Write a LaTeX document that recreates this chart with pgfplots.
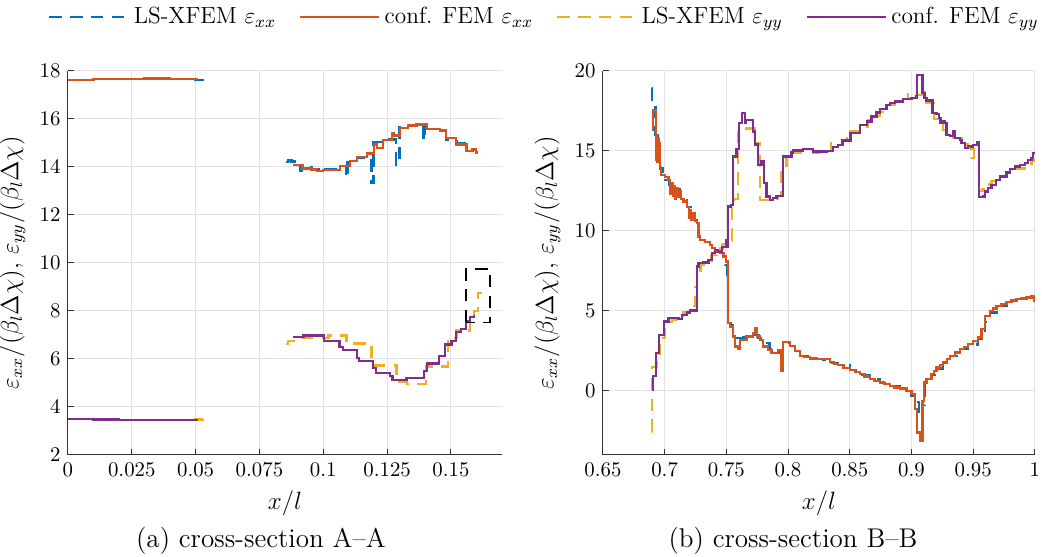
\documentclass[border=0pt]{standalone}
\usepackage{pgfplots}
\pgfplotsset{compat=1.18}
\definecolor{mblue}{rgb}{0,0.447,0.741}
\definecolor{morange}{rgb}{0.85,0.325,0.098}
\definecolor{myellow}{rgb}{0.929,0.694,0.125}
\definecolor{mpurple}{rgb}{0.494,0.184,0.556}
\pgfplotsset{
  mystyle/.style={
    scale only axis, height=184.3pt,
    axis x line*=bottom, axis y line*=left,
    axis line style={-, black!80, line width=0.5pt},
    grid=major, major grid style={gray!22, line width=0.5pt},
    tick align=inside, major tick length=3pt, tick style={black!80, line width=0.5pt},
    ticklabel style={font=\fontsize{10}{12}\selectfont},
    label style={font=\fontsize{12}{14}\selectfont},
    xlabel={$x/l$},
    ylabel={$\varepsilon_{xx}/(\beta_l\Delta\chi)$, $\varepsilon_{yy}/(\beta_l\Delta\chi)$},
  },
  xxls/.style={mblue, line width=1.1pt, dash pattern=on 6pt off 4pt, const plot},
  xxfe/.style={morange, line width=1.1pt, const plot},
  yyls/.style={myellow, line width=1.1pt, dash pattern=on 6pt off 4pt, const plot},
  yyfe/.style={mpurple, line width=1.1pt, const plot},
}
\begin{document}
\begin{tikzpicture}
\useasboundingbox (-32.6pt,-48.5pt) rectangle (467.4pt,218.3pt);
% ---------------- left axis ----------------
\begin{axis}[mystyle, at={(0pt,0pt)}, anchor=south west, width=208.3pt,
  xmin=0, xmax=0.17, ymin=2, ymax=18,
  xtick={0,0.025,0.05,0.075,0.1,0.125,0.15},
  xticklabels={0,0.025,0.05,0.075,0.1,0.125,0.15},
  ytick={2,4,6,8,10,12,14,16,18},
  legend style={at={(1.10,1.14)}, anchor=center, draw=none, fill=none,
    legend columns=4, font=\fontsize{11.2}{13}\selectfont, inner sep=0pt,
    /tikz/every even column/.append style={column sep=9pt}},
  legend cell align=left,
  legend image code/.code={\draw[#1] (0pt,0pt) -- (38pt,0pt);},
]
\addplot[xxls] coordinates {(0,17.62) (0.01,17.65) (0.02,17.67) (0.03,17.68) (0.04,17.66) (0.05,17.63) (0.0528,17.62)};
\addlegendentry{LS-XFEM $\varepsilon_{xx}$}
\addplot[xxfe] coordinates {(0,17.62) (0.01,17.65) (0.02,17.67) (0.03,17.68) (0.04,17.66) (0.0504,17.63)};
\addlegendentry{conf. FEM $\varepsilon_{xx}$}
\addplot[yyls] coordinates {(0,3.5) (0.01,3.48) (0.02,3.46) (0.03,3.45) (0.04,3.46) (0.05,3.48) (0.0528,3.49)};
\addlegendentry{LS-XFEM $\varepsilon_{yy}$}
\addplot[yyfe] coordinates {(0,3.5) (0.01,3.48) (0.02,3.46) (0.03,3.45) (0.04,3.46) (0.0504,3.48)};
\addlegendentry{conf. FEM $\varepsilon_{yy}$}
% second pieces
\addplot[xxls, forget plot] coordinates {
(0.0854,14.19) (0.0863,14.26) (0.0876,14.22) (0.0889,14.10) (0.0909,13.85) (0.0915,14.03)
(0.0954,13.90) (0.0984,13.80) (0.0990,13.92) (0.1065,14.03) (0.1089,13.54) (0.1095,14.24)
(0.1133,14.38) (0.1189,13.33) (0.1197,15.03) (0.1235,15.14) (0.1284,14.10) (0.1298,15.72)
(0.1365,15.80) (0.1392,15.10) (0.1398,15.86) (0.1405,15.58) (0.1480,15.14) (0.1487,15.07)
(0.1522,15.00) (0.1561,14.65) (0.1587,14.72) (0.1598,14.44) (0.1607,14.44)};
\addplot[xxfe, forget plot] coordinates {
(0.0883,14.07) (0.0919,13.93) (0.0954,13.89) (0.0974,13.82) (0.1000,13.86) (0.1065,14.03)
(0.1104,14.24) (0.1133,14.42) (0.1170,14.56) (0.1198,14.93) (0.1210,14.80) (0.1235,15.11)
(0.1268,15.42) (0.1277,15.31) (0.1300,15.63) (0.1333,15.72) (0.1365,15.76) (0.1405,15.58)
(0.1457,15.51) (0.1480,15.21) (0.1519,14.93) (0.1561,14.65) (0.1581,14.72) (0.1598,14.60) (0.1605,14.60)};
\addplot[yyls, forget plot] coordinates {
(0.0854,6.63) (0.0863,6.76) (0.0893,6.88) (0.1020,6.97) (0.1091,6.64) (0.1189,6.08)
(0.1202,5.72) (0.1287,5.03) (0.1329,4.96) (0.1402,5.69) (0.1489,6.88) (0.1522,7.18)
(0.1574,7.60) (0.1590,7.99) (0.1607,8.75) (0.1620,8.75)};
\addplot[yyfe, forget plot] coordinates {
(0.0883,6.92) (0.0922,6.97) (0.1004,6.74) (0.1063,6.49) (0.1076,6.36) (0.1131,6.04)
(0.1141,5.90) (0.1196,5.63) (0.1206,5.42) (0.1261,5.28) (0.1271,5.11) (0.1326,5.21)
(0.1394,5.49) (0.1405,5.81) (0.1454,6.11) (0.1476,6.60) (0.1502,6.74) (0.1519,7.11)
(0.1538,7.25) (0.1559,7.57) (0.1574,7.75) (0.1590,7.78) (0.1594,7.78)};
\addplot[black, line width=0.6pt, dash pattern=on 6pt off 4pt, forget plot] coordinates {
(0.1559,7.53) (0.1559,9.75) (0.1653,9.75) (0.1653,7.53) (0.1559,7.53)};
\end{axis}
% ---------------- right axis ----------------
\begin{axis}[mystyle, at={(256.7pt,0pt)}, anchor=south west, width=207.3pt,
  xmin=0.65, xmax=1, ymin=-4, ymax=20,
  xtick={0.65,0.7,0.75,0.8,0.85,0.9,0.95,1},
  xticklabels={0.65,0.7,0.75,0.8,0.85,0.9,0.95,1},
  ytick={0,5,10,15,20},
]
\addplot[xxls] coordinates {
(0.6898,18.92) (0.6900,18.2) (0.6925,16.0) (0.6945,15.0) (0.6965,13.9) (0.6985,13.5)
(0.7005,13.2) (0.7040,12.9) (0.7080,12.6) (0.7120,12.2) (0.7153,11.9) (0.7180,11.5)
(0.7210,11.1) (0.7240,10.7) (0.7261,10.3) (0.7274,9.65) (0.7288,9.44) (0.7328,9.3)
(0.7368,9.13) (0.7382,8.92) (0.7409,8.71) (0.7449,8.6) (0.7476,8.4) (0.7490,7.85)
(0.7505,6.8) (0.7516,4.4) (0.7535,4.1) (0.7556,3.6) (0.7583,3.3) (0.7640,3.35)
(0.7718,3.5) (0.7760,3.3) (0.7800,3.0) (0.7850,2.6) (0.7892,2.4) (0.7930,2.5)
(0.7960,3.0) (0.8000,3.0) (0.8014,2.81) (0.8054,2.5) (0.8095,2.2) (0.8176,2.0)
(0.8284,1.95) (0.8338,1.75) (0.8405,1.6) (0.8500,1.31) (0.8581,1.0) (0.8662,0.73)
(0.8743,0.5) (0.8824,0.31) (0.8905,0.15) (0.8959,0) (0.9000,-0.3) (0.9030,-0.7)
(0.9060,-1.3) (0.9085,-1.6) (0.9095,-0.9) (0.9105,0.5) (0.9122,0.73) (0.9162,1.0)
(0.9203,1.4) (0.9257,1.77) (0.9311,2.19) (0.9392,2.6) (0.9459,2.9) (0.9541,3.25)
(0.9568,3.5) (0.9595,4.3) (0.9635,4.9) (0.9689,5.31) (0.9770,5.56) (0.9851,5.73)
(0.9932,5.83) (0.9973,5.9) (1.0,5.8)};
\addplot[xxfe] coordinates {
(0.6900,16.3) (0.6903,17.52) (0.6930,14.44) (0.6935,16.0) (0.6940,14.3) (0.6945,15.8)
(0.6950,14.4) (0.6955,15.5) (0.6960,14.0) (0.6970,13.5) (0.7005,13.35) (0.7032,13.19)
(0.7045,12.3) (0.7055,13.0) (0.7065,12.2) (0.7075,12.8) (0.7085,12.0) (0.7095,12.7)
(0.7105,12.1) (0.7120,12.5) (0.7135,12.0) (0.7153,11.83) (0.7180,11.5) (0.7195,10.8)
(0.7205,11.3) (0.7215,10.7) (0.7230,11.1) (0.7247,10.6) (0.7261,10.48) (0.7274,9.65)
(0.7288,9.44) (0.7328,9.3) (0.7368,9.13) (0.7382,8.92) (0.7409,8.71) (0.7449,8.6)
(0.7476,8.4) (0.7497,8.08) (0.7516,4.23) (0.7530,4.02) (0.7556,3.4) (0.7570,2.77)
(0.7597,2.6) (0.7610,3.19) (0.7664,3.4) (0.7718,3.6) (0.7731,3.92) (0.7750,3.4)
(0.7772,3.19) (0.7798,2.77) (0.7839,2.56) (0.7866,2.35) (0.7892,2.35) (0.7919,2.56)
(0.7946,1.25) (0.7960,3.06) (0.8000,3.06) (0.8014,2.81) (0.8054,2.5) (0.8095,2.19)
(0.8130,2.1) (0.8176,2.02) (0.8230,2.0) (0.8284,1.98) (0.8338,1.81) (0.8370,1.7)
(0.8405,1.6) (0.8450,1.45) (0.8500,1.31) (0.8540,1.18) (0.8581,1.04) (0.8620,0.9)
(0.8662,0.73) (0.8700,0.62) (0.8743,0.52) (0.8780,0.42) (0.8824,0.31) (0.8860,0.22)
(0.8905,0.15) (0.8959,0) (0.9000,-0.21) (0.9027,-1.15) (0.9046,-2.6) (0.9068,-3.13)
(0.9089,-0.63) (0.9100,0.52) (0.9122,0.73) (0.9162,1.04) (0.9180,1.25) (0.9203,1.46)
(0.9230,1.6) (0.9257,1.77) (0.9285,2.0) (0.9311,2.19) (0.9350,2.4) (0.9392,2.6)
(0.9425,2.75) (0.9459,2.92) (0.9500,3.1) (0.9541,3.33) (0.9568,3.85) (0.9595,4.69)
(0.9635,5.0) (0.9660,5.15) (0.9689,5.31) (0.9730,5.45) (0.9770,5.56) (0.9810,5.65)
(0.9851,5.73) (0.9890,5.78) (0.9932,5.83) (0.9973,5.94) (0.9992,5.63) (1.0,5.63)};
\addplot[yyls] coordinates {
(0.6895,-2.54) (0.6898,1.5) (0.6935,2.3) (0.6960,3.3) (0.7005,4.3) (0.7060,4.45)
(0.7113,4.5) (0.7150,4.9) (0.7220,5.3) (0.7247,6.5) (0.7261,7.4) (0.7290,7.9)
(0.7340,8.1) (0.7380,8.5) (0.7420,8.9) (0.7470,9.2) (0.7520,9.4) (0.7543,11.6)
(0.7560,12.0) (0.7597,16.4) (0.7704,16.4) (0.7731,15.5) (0.7772,11.94) (0.7880,12.0)
(0.7920,12.2) (0.7946,13.8) (0.7987,14.6) (0.8027,14.85) (0.8100,15.05) (0.8203,14.9)
(0.8311,15.0) (0.8350,15.5) (0.8405,15.5) (0.8441,15.7) (0.8480,16.25) (0.8581,16.5)
(0.8650,16.9) (0.8700,17.2) (0.8743,17.45) (0.8797,17.85) (0.8865,18.1) (0.8932,18.25)
(0.8970,18.55) (0.9000,18.5) (0.9089,18.7) (0.9105,18.3) (0.9122,18.0) (0.9180,17.0)
(0.9224,16.6) (0.9257,16.3) (0.9284,16.0) (0.9338,15.8) (0.9405,15.4) (0.9459,15.2)
(0.9486,14.54) (0.9505,15.3) (0.9532,15.4) (0.9549,12.5) (0.9575,12.6) (0.9600,12.9)
(0.9649,13.1) (0.9700,13.4) (0.9770,13.7) (0.9838,13.9) (0.9919,14.2) (0.9973,14.4) (1.0,14.4)};
\addplot[yyfe] coordinates {
(0.6903,0) (0.6903,0.94) (0.6930,2.35) (0.6952,3.5) (0.6997,4.33) (0.7032,4.54)
(0.7113,4.48) (0.7140,4.75) (0.7180,4.9) (0.7207,5.02) (0.7261,7.77) (0.7274,7.98)
(0.7315,8.02) (0.7355,8.19) (0.7382,8.6) (0.7409,8.81) (0.7435,8.7) (0.7462,9.0)
(0.7497,9.44) (0.7508,9.0) (0.7516,11.52) (0.7535,11.63) (0.7556,14.65) (0.7583,15.1)
(0.7605,16.73) (0.7624,17.35) (0.7651,16.73) (0.7660,16.94) (0.7718,16.21) (0.7731,15.4)
(0.7758,14.13) (0.7785,14.33) (0.7804,12.98) (0.7825,12.15) (0.7852,11.94) (0.7879,12.04)
(0.7906,12.19) (0.7933,12.2) (0.7959,14.65) (0.8027,14.9) (0.8041,15.02) (0.8122,15.1)
(0.8203,14.96) (0.8311,15.0) (0.8365,15.23) (0.8405,15.38) (0.8441,15.65) (0.8505,16.1)
(0.8581,16.63) (0.8641,16.83) (0.8676,17.15) (0.8716,17.4) (0.8743,17.6) (0.8797,17.88)
(0.8824,17.98) (0.8865,18.08) (0.8932,18.23) (0.9000,18.29) (0.9041,18.44) (0.9046,19.75)
(0.9089,18.6) (0.9105,18.3) (0.9122,18.15) (0.9170,17.35) (0.9203,17.3) (0.9224,17.04)
(0.9235,16.73) (0.9257,16.83) (0.9270,16.73) (0.9284,16.0) (0.9311,15.94) (0.9338,16.21)
(0.9351,15.79) (0.9392,15.69) (0.9405,15.5) (0.9432,15.17) (0.9459,15.31) (0.9486,15.23)
(0.9500,15.38) (0.9532,15.52) (0.9549,12.1) (0.9581,12.15) (0.9595,12.46) (0.9622,12.67)
(0.9649,12.88) (0.9684,13.19) (0.9716,13.4) (0.9770,13.65) (0.9797,13.85) (0.9838,14.02)
(0.9878,14.1) (0.9919,14.23) (0.9946,14.44) (0.9973,14.54) (0.9986,14.85) (1.0,14.85)};
\end{axis}
\node[font=\fontsize{13}{15}\selectfont] at (92.6pt,-41.3pt) {(a) cross-section A--A};
\node[font=\fontsize{13}{15}\selectfont] at (347.9pt,-41.3pt) {(b) cross-section B--B};
\end{tikzpicture}
\end{document}
